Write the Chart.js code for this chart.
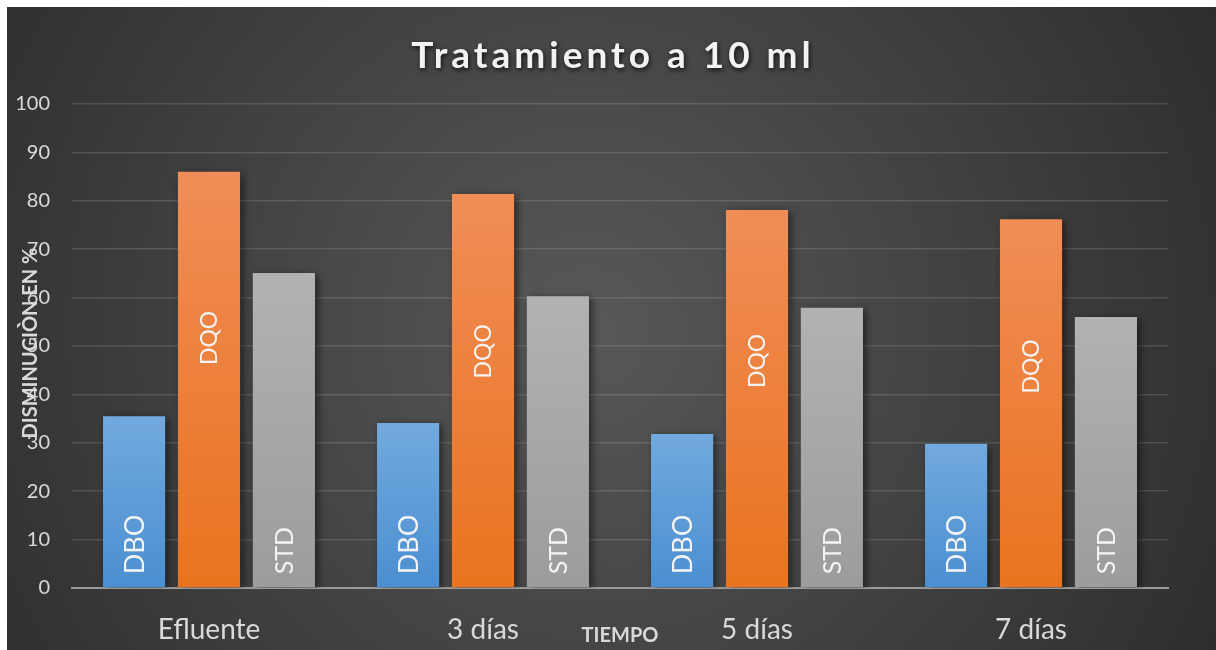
<!DOCTYPE html>
<html>
<head>
<meta charset="utf-8">
<title>Tratamiento a 10 ml</title>
<script src="https://cdn.jsdelivr.net/npm/chart.js@4"></script>
<style>
  html, body { margin: 0; padding: 0; background: #fff; }
  #wrap { position: absolute; left: 7px; top: 7px; width: 1209px; height: 643px; }
</style>
</head>
<body>
<div id="wrap"><canvas id="chart"></canvas></div>
<script>
// Data
const categories = ['Efluente', '3 días', '5 días', '7 días'];
const seriesNames = ['DBO', 'DQO', 'STD'];
const dboValues = [35.5, 34.1, 31.8, 29.8];
const dqoValues = [86, 81.4, 78.1, 76.2];
const stdValues = [65.1, 60.3, 57.9, 56];
const yMin = 0, yMax = 100, yStep = 10;

const titleText = 'Tratamiento a 10 ml';
const yTitleText = 'DISMINUCIÒN EN %';
const xTitleText = 'TIEMPO';

// top / bottom colours of each bar gradient
const barColors = {
  DBO: ['#72a9de', '#4a8fd1'],
  DQO: ['#f08d57', '#ea731f'],
  STD: ['#b2b2b2', '#9c9c9c']
};

const FONT = 'Lato, Carlito, Calibri, sans-serif';
const LABEL = '#d9d9d9';

function barGradient(name, values) {
  return function(ctx) {
    const chart = ctx.chart;
    const yScale = chart.scales.y;
    if (!chart.chartArea || !yScale) return barColors[name][1];
    const top = yScale.getPixelForValue(values[ctx.dataIndex]);
    const bottom = yScale.getPixelForValue(0);
    const g = chart.ctx.createLinearGradient(0, top, 0, bottom);
    g.addColorStop(0, barColors[name][0]);
    g.addColorStop(1, barColors[name][1]);
    return g;
  };
}

// Background, title, axis titles and in-bar labels
const decorPlugin = {
  id: 'decor',
  beforeDraw(chart) {
    const { ctx, width, height } = chart;
    ctx.save();
    const g = ctx.createRadialGradient(width * 0.48, height * 0.5, 20, width * 0.48, height * 0.5, width * 0.62);
    g.addColorStop(0, '#575757');
    g.addColorStop(1, '#2b2b2b');
    ctx.fillStyle = g;
    ctx.fillRect(0, 0, width, height);
    ctx.restore();
  },
  beforeDatasetsDraw(chart) {
    const ctx = chart.ctx;
    ctx.save();
    ctx.shadowColor = 'rgba(0,0,0,0.55)';
    ctx.shadowBlur = 8;
    ctx.shadowOffsetX = 3;
    ctx.shadowOffsetY = 2;
  },
  afterDatasetsDraw(chart) {
    const ctx = chart.ctx;
    ctx.restore();

    // labels inside bars
    ctx.save();
    ctx.fillStyle = '#f4f4f4';
    chart.data.datasets.forEach((ds, di) => {
      const meta = chart.getDatasetMeta(di);
      meta.data.forEach(bar => {
        ctx.save();
        if (ds.label === 'DQO') {
          const cy = bar.y + (bar.base - bar.y) * 0.4;
          ctx.translate(bar.x, cy);
          ctx.rotate(-Math.PI / 2);
          ctx.font = '23px ' + FONT;
          ctx.textAlign = 'center';
          ctx.textBaseline = 'middle';
          ctx.fillText(ds.label, 0, 1);
        } else {
          ctx.translate(bar.x, bar.base - 13);
          ctx.rotate(-Math.PI / 2);
          ctx.font = (ds.label === 'DBO' ? '27px ' : '25px ') + FONT;
          ctx.textAlign = 'left';
          ctx.textBaseline = 'middle';
          ctx.fillText(ds.label, 0, 1);
        }
        ctx.restore();
      });
    });
    ctx.restore();
  },
  afterDraw(chart) {
    const { ctx } = chart;
    ctx.save();
    // title
    ctx.font = 'bold 37px ' + FONT;
    ctx.letterSpacing = '4px';
    ctx.textAlign = 'center';
    ctx.textBaseline = 'middle';
    ctx.shadowColor = 'rgba(0,0,0,0.8)';
    ctx.shadowBlur = 5;
    ctx.shadowOffsetX = 1;
    ctx.shadowOffsetY = 2;
    ctx.fillStyle = '#f2f2f2';
    ctx.fillText(titleText, 606, 49);
    ctx.restore();

    // axis titles
    ctx.save();
    ctx.fillStyle = LABEL;
    ctx.font = 'bold 20px ' + FONT;
    ctx.textAlign = 'center';
    ctx.textBaseline = 'middle';
    ctx.fillText(xTitleText, 613, 629);
    ctx.translate(24, 336);
    ctx.rotate(-Math.PI / 2);
    ctx.fillText(yTitleText, 0, 0);
    ctx.restore();
  }
};

new Chart(document.getElementById('chart'), {
  type: 'bar',
  data: {
    labels: categories,
    datasets: [
      { label: seriesNames[0], data: dboValues, backgroundColor: barGradient('DBO', dboValues) },
      { label: seriesNames[1], data: dqoValues, backgroundColor: barGradient('DQO', dqoValues) },
      { label: seriesNames[2], data: stdValues, backgroundColor: barGradient('STD', stdValues) }
    ]
  },
  options: {
    responsive: true,
    maintainAspectRatio: false,
    animation: false,
    datasets: { bar: { categoryPercentage: 0.82, barPercentage: 0.83 } },
    layout: { padding: { top: 97, right: 48, left: 0, bottom: 0 } },
    plugins: {
      legend: { display: false },
      title: { display: false },
      tooltip: { enabled: false }
    },
    scales: {
      x: {
        grid: { display: false, drawTicks: false },
        border: { display: true, color: '#9a9a9a', width: 2 },
        ticks: { color: LABEL, font: { family: FONT, size: 28 }, padding: 25 },
        afterFit(scale) { scale.height = 62; }
      },
      y: {
        min: yMin,
        max: yMax,
        grid: { color: 'rgba(255,255,255,0.13)', lineWidth: 1.5, drawTicks: false },
        border: { display: false },
        ticks: { stepSize: yStep, color: LABEL, font: { family: FONT, size: 20 }, padding: 22 },
        afterFit(scale) { scale.width = 65; }
      }
    }
  },
  plugins: [decorPlugin]
});
</script>
</body>
</html>
